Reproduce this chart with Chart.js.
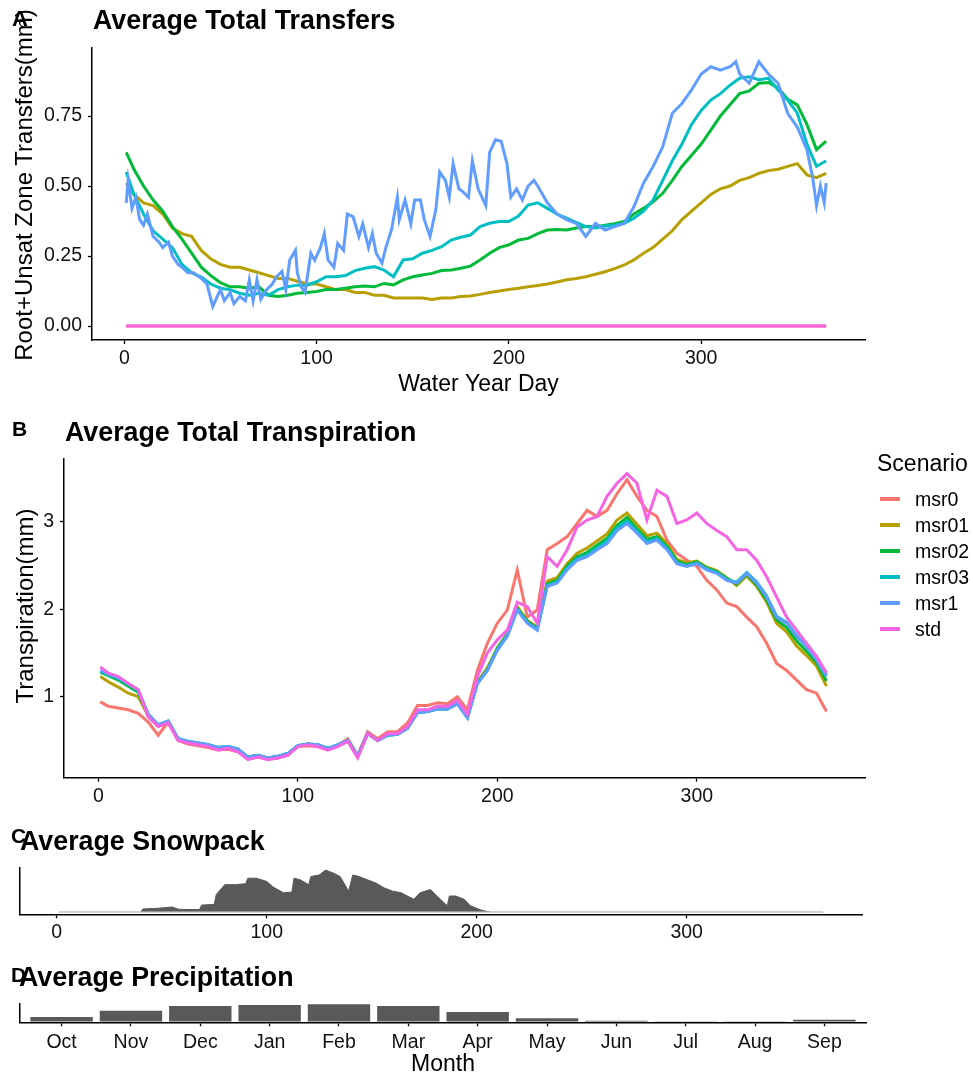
<!DOCTYPE html>
<html>
<head>
<meta charset="utf-8">
<title>Water balance by scenario</title>
<script src="https://cdn.jsdelivr.net/npm/chart.js@4.4.1/dist/chart.umd.min.js"></script>
<style>
  body { margin: 0; background: #fff; }
  #page { position: relative; width: 973px; height: 1080px; overflow: hidden; background: #fff;
          font-family: 'Liberation Sans', Arial, Helvetica, sans-serif; color: #000; }
  canvas { position: absolute; left: 0; }
  .txt { position: absolute; white-space: nowrap; line-height: 1; }
  .bold { font-weight: bold; }
  .vert { transform: translate(-50%, -50%) rotate(-90deg); }
  .key { position: absolute; width: 20px; height: 4px; }
</style>
</head>
<body>
<div id="page">
  <canvas id="transfers" width="973" height="400" style="top:0"></canvas>
  <canvas id="transpiration" width="973" height="420" style="top:400px"></canvas>
  <canvas id="snowpack" width="973" height="130" style="top:820px"></canvas>
  <canvas id="precip" width="973" height="130" style="top:950px"></canvas>

  <div class="txt bold" style="left:12px;top:8px;font-size:22px">A</div>
  <div class="txt bold" style="left:93px;top:7px;font-size:26.8px">Average Total Transfers</div>
  <div class="txt vert" style="left:24px;top:185px;font-size:24px">Root+Unsat Zone Transfers(mm)</div>

  <div class="txt bold" style="left:12px;top:418px;font-size:21px">B</div>
  <div class="txt bold" style="left:65px;top:419px;font-size:26.8px">Average Total Transpiration</div>
  <div class="txt vert" style="left:25px;top:606px;font-size:24px">Transpiration(mm)</div>
  <div class="txt" style="left:877px;top:452px;font-size:23px">Scenario</div>

  <div class="txt bold" style="left:11px;top:825px;font-size:21px">C</div>
  <div class="txt bold" style="left:20px;top:828px;font-size:26.8px">Average Snowpack</div>

  <div class="txt bold" style="left:11px;top:964px;font-size:21px">D</div>
  <div class="txt bold" style="left:19px;top:964px;font-size:26.8px">Average Precipitation</div>
</div>

<script>
const FONT = "'Liberation Sans', Arial, Helvetica, sans-serif";
const TICK_FONT = { family: FONT, size: 19.5 };

const scenarios = ['msr0', 'msr01', 'msr02', 'msr03', 'msr1', 'std'];
const scenarioColors = ['#F8766D', '#B79F00', '#00BA38', '#00BFC4', '#619CFF', '#F564E3'];

// water year days sampled every 5 days
const dayGrid = [1, 5, 10, 15, 20, 25, 30, 35, 40, 45, 50, 55, 60, 65, 70, 75, 80, 85, 90, 95,
  100, 105, 110, 115, 120, 125, 130, 135, 140, 145, 150, 155, 160, 165, 170, 175, 180, 185, 190, 195,
  200, 205, 210, 215, 220, 225, 230, 235, 240, 245, 250, 255, 260, 265, 270, 275, 280, 285, 290, 295,
  300, 305, 310, 315, 320, 325, 330, 335, 340, 345, 350, 355, 360, 365];
const dayEnds = [1, 365];
const dayTicks = [0, 100, 200, 300];

// root + unsat zone transfers (mm)
const xferMsr0 = [0, 0];
const xferMsr01 = [0.51, 0.47, 0.44, 0.43, 0.40, 0.35, 0.33, 0.32, 0.27, 0.24,
  0.22, 0.21, 0.21, 0.20, 0.19, 0.18, 0.17, 0.17, 0.16, 0.15,
  0.15, 0.14, 0.13, 0.13, 0.12, 0.12, 0.11, 0.11, 0.10, 0.10,
  0.10, 0.10, 0.095, 0.10, 0.10, 0.105, 0.107, 0.113, 0.12, 0.125,
  0.13, 0.135, 0.14, 0.145, 0.15, 0.157, 0.165, 0.17, 0.176, 0.185,
  0.194, 0.205, 0.218, 0.236, 0.26, 0.28, 0.31, 0.34, 0.38, 0.41,
  0.44, 0.47, 0.49, 0.50, 0.52, 0.53, 0.545, 0.555, 0.56, 0.57,
  0.58, 0.54, 0.53, 0.545];
const xferMsr02 = [0.62, 0.56, 0.50, 0.45, 0.41, 0.355, 0.31, 0.26, 0.21, 0.18,
  0.155, 0.14, 0.14, 0.135, 0.14, 0.11, 0.105, 0.11, 0.117, 0.12,
  0.123, 0.13, 0.13, 0.135, 0.14, 0.143, 0.14, 0.152, 0.147, 0.165,
  0.176, 0.182, 0.188, 0.198, 0.20, 0.206, 0.214, 0.236, 0.26, 0.28,
  0.29, 0.307, 0.313, 0.33, 0.343, 0.345, 0.343, 0.35, 0.355, 0.355,
  0.36, 0.365, 0.373, 0.40, 0.42, 0.444, 0.474, 0.52, 0.57, 0.61,
  0.65, 0.70, 0.75, 0.79, 0.83, 0.84, 0.867, 0.87, 0.85, 0.81,
  0.79, 0.72, 0.63, 0.66];
const xferMsr03 = [0.55, 0.47, 0.40, 0.34, 0.31, 0.28, 0.22, 0.19, 0.175, 0.15,
  0.135, 0.13, 0.117, 0.11, 0.117, 0.11, 0.13, 0.14, 0.146, 0.146,
  0.158, 0.176, 0.176, 0.18, 0.198, 0.206, 0.212, 0.20, 0.176, 0.236,
  0.24, 0.26, 0.27, 0.283, 0.307, 0.317, 0.325, 0.355, 0.367, 0.373,
  0.373, 0.393, 0.432, 0.44, 0.42, 0.40, 0.385, 0.37, 0.355, 0.35,
  0.357, 0.36, 0.367, 0.385, 0.41, 0.45, 0.52, 0.59, 0.65, 0.72,
  0.77, 0.807, 0.83, 0.86, 0.885, 0.89, 0.88, 0.885, 0.843, 0.807,
  0.76, 0.65, 0.57, 0.59];
// msr1 is much spikier, so it keeps its own denser day list
const xferMsr1Days = [1, 2, 4, 6, 8, 10, 12, 15, 18, 20,
  23, 25, 28, 30, 33, 36, 40, 43, 46, 50,
  52, 55, 57, 60, 63, 65, 67, 69, 71, 74,
  77, 79, 82, 84, 86, 89, 90, 92, 94, 97,
  99, 102, 104, 106, 109, 111, 114, 116, 119, 122,
  124, 127, 129, 131, 134, 136, 139, 142, 143, 146,
  149, 151, 154, 156, 159, 162, 164, 167, 169, 171,
  174, 176, 179, 181, 184, 188, 190, 193, 196, 199,
  201, 204, 207, 210, 213, 215, 220, 225, 230, 235,
  240, 245, 250, 255, 260, 265, 270, 275, 280, 285,
  290, 295, 300, 305, 310, 315, 318, 320, 325, 330,
  335, 340, 345, 350, 355, 358, 360, 362, 364, 365];
const xferMsr1 = [0.44, 0.52, 0.42, 0.46, 0.38, 0.36, 0.40, 0.32, 0.30, 0.28,
  0.30, 0.25, 0.22, 0.21, 0.19, 0.19, 0.17, 0.15, 0.07, 0.13,
  0.09, 0.12, 0.08, 0.105, 0.09, 0.165, 0.09, 0.165, 0.095, 0.13,
  0.15, 0.175, 0.195, 0.13, 0.235, 0.27, 0.19, 0.14, 0.12, 0.26,
  0.235, 0.28, 0.33, 0.235, 0.21, 0.295, 0.27, 0.40, 0.39, 0.32,
  0.365, 0.28, 0.33, 0.26, 0.225, 0.28, 0.345, 0.46, 0.38, 0.45,
  0.365, 0.45, 0.45, 0.38, 0.32, 0.415, 0.55, 0.52, 0.46, 0.58,
  0.49, 0.48, 0.46, 0.59, 0.49, 0.43, 0.62, 0.665, 0.66, 0.58,
  0.46, 0.49, 0.45, 0.50, 0.52, 0.50, 0.44, 0.40, 0.38, 0.367,
  0.32, 0.367, 0.343, 0.355, 0.367, 0.426, 0.51, 0.57, 0.64, 0.76,
  0.795, 0.843, 0.90, 0.926, 0.914, 0.926, 0.944, 0.90, 0.867, 0.944,
  0.90, 0.867, 0.76, 0.71, 0.63, 0.53, 0.43, 0.50, 0.44, 0.51];
const xferStd = [0, 0];
const xferTicks = [0, 0.25, 0.5, 0.75];

// transpiration (mm)
const transpMsr0 = [0.94, 0.89, 0.87, 0.85, 0.81, 0.71, 0.56, 0.71, 0.50, 0.46,
  0.44, 0.42, 0.39, 0.40, 0.37, 0.29, 0.31, 0.29, 0.30, 0.34,
  0.43, 0.44, 0.43, 0.40, 0.44, 0.52, 0.33, 0.60, 0.52, 0.60,
  0.60, 0.70, 0.90, 0.90, 0.93, 0.92, 1.00, 0.85, 1.30, 1.61,
  1.84, 1.99, 2.45, 1.91, 1.99, 2.68, 2.75, 2.83, 2.98, 3.13,
  3.06, 3.13, 3.32, 3.48, 3.29, 3.13, 3.06, 2.79, 2.64, 2.56,
  2.49, 2.33, 2.22, 2.07, 2.03, 1.91, 1.80, 1.61, 1.38, 1.30,
  1.19, 1.08, 1.04, 0.83];
const transpMsr01 = [1.23, 1.17, 1.11, 1.04, 1.00, 0.78, 0.66, 0.71, 0.51, 0.48,
  0.46, 0.44, 0.41, 0.42, 0.39, 0.30, 0.32, 0.29, 0.31, 0.34,
  0.43, 0.45, 0.44, 0.40, 0.44, 0.50, 0.31, 0.58, 0.50, 0.57,
  0.57, 0.65, 0.83, 0.84, 0.87, 0.87, 0.93, 0.77, 1.17, 1.33,
  1.56, 1.72, 2.03, 1.87, 1.80, 2.32, 2.36, 2.52, 2.64, 2.70,
  2.78, 2.86, 3.02, 3.10, 2.97, 2.84, 2.87, 2.75, 2.57, 2.53,
  2.55, 2.48, 2.44, 2.36, 2.27, 2.38, 2.26, 2.08, 1.84, 1.74,
  1.58, 1.47, 1.35, 1.12];
const transpMsr02 = [1.28, 1.24, 1.19, 1.12, 1.05, 0.79, 0.67, 0.72, 0.52, 0.48,
  0.47, 0.45, 0.42, 0.43, 0.40, 0.31, 0.33, 0.30, 0.32, 0.35,
  0.44, 0.46, 0.45, 0.41, 0.45, 0.50, 0.32, 0.58, 0.50, 0.56,
  0.57, 0.64, 0.82, 0.83, 0.86, 0.86, 0.92, 0.76, 1.16, 1.31,
  1.55, 1.71, 2.01, 1.86, 1.78, 2.29, 2.33, 2.49, 2.60, 2.65,
  2.73, 2.81, 2.96, 3.05, 2.92, 2.80, 2.83, 2.72, 2.55, 2.51,
  2.54, 2.47, 2.43, 2.35, 2.29, 2.40, 2.28, 2.11, 1.88, 1.79,
  1.64, 1.52, 1.39, 1.18];
const transpMsr03 = [1.29, 1.25, 1.21, 1.14, 1.07, 0.80, 0.68, 0.72, 0.52, 0.49,
  0.47, 0.45, 0.42, 0.43, 0.40, 0.31, 0.33, 0.30, 0.32, 0.35,
  0.44, 0.46, 0.45, 0.41, 0.45, 0.50, 0.32, 0.58, 0.50, 0.56,
  0.57, 0.64, 0.82, 0.83, 0.86, 0.86, 0.92, 0.76, 1.15, 1.30,
  1.54, 1.70, 2.00, 1.85, 1.77, 2.27, 2.31, 2.47, 2.58, 2.62,
  2.70, 2.78, 2.93, 3.01, 2.89, 2.77, 2.81, 2.70, 2.53, 2.50,
  2.53, 2.46, 2.42, 2.34, 2.31, 2.42, 2.31, 2.15, 1.92, 1.85,
  1.70, 1.58, 1.43, 1.25];
const transpMsr1 = [1.30, 1.26, 1.22, 1.15, 1.08, 0.80, 0.68, 0.72, 0.52, 0.49,
  0.47, 0.45, 0.42, 0.43, 0.40, 0.31, 0.33, 0.30, 0.32, 0.35,
  0.44, 0.46, 0.45, 0.41, 0.45, 0.50, 0.32, 0.58, 0.50, 0.56,
  0.57, 0.64, 0.82, 0.83, 0.86, 0.86, 0.92, 0.76, 1.15, 1.30,
  1.53, 1.69, 1.99, 1.84, 1.76, 2.26, 2.30, 2.45, 2.56, 2.60,
  2.68, 2.75, 2.90, 2.98, 2.87, 2.75, 2.79, 2.68, 2.52, 2.49,
  2.52, 2.45, 2.41, 2.33, 2.30, 2.41, 2.30, 2.14, 1.91, 1.84,
  1.69, 1.57, 1.42, 1.23];
const transpStd = [1.34, 1.27, 1.23, 1.15, 1.08, 0.77, 0.66, 0.70, 0.50, 0.47,
  0.45, 0.43, 0.39, 0.41, 0.37, 0.28, 0.31, 0.28, 0.30, 0.33,
  0.43, 0.45, 0.43, 0.39, 0.43, 0.49, 0.30, 0.58, 0.50, 0.58,
  0.58, 0.66, 0.85, 0.85, 0.89, 0.89, 0.96, 0.80, 1.23, 1.50,
  1.65, 1.76, 2.08, 2.03, 1.84, 2.60, 2.49, 2.68, 2.94, 3.02,
  3.06, 3.29, 3.44, 3.55, 3.44, 3.02, 3.36, 3.29, 2.98, 3.02,
  3.10, 2.98, 2.90, 2.83, 2.68, 2.68, 2.56, 2.37, 2.14, 1.91,
  1.76, 1.61, 1.46, 1.27];
const transpTicks = [1, 2, 3];

// snowpack (mm SWE)
const snowDays = [1, 40, 41, 48, 55, 58, 65, 68, 69, 75, 76, 80, 85, 90, 91, 95, 100, 103, 108, 112,
  113, 116, 120, 121, 125, 128, 132, 135, 139, 141, 144, 148, 152, 156, 160, 164, 170, 173, 178, 181,
  186, 187, 190, 194, 197, 202, 205, 207, 365];
const snowDepth = [0, 0, 10, 12, 16, 9, 8, 8, 22, 24, 55, 85, 85, 88, 105, 105, 95, 78, 60, 62,
  105, 100, 85, 110, 115, 130, 120, 110, 65, 115, 110, 100, 90, 75, 65, 60, 40, 60, 70, 50,
  20, 50, 50, 40, 20, 7, 2, 0, 0];

// monthly precipitation (mm), water year order
const monthNames = ['Oct', 'Nov', 'Dec', 'Jan', 'Feb', 'Mar', 'Apr', 'May', 'Jun', 'Jul', 'Aug', 'Sep'];
const monthIndex = [1, 2, 3, 4, 5, 6, 7, 8, 9, 10, 11, 12];
const precipTotals = [12, 30, 43, 46, 48, 43, 26, 9, 2, 0.5, 0.3, 5];

function pts(xs, ys) {
  return xs.map((x, i) => ({ x: x, y: ys[i] }));
}

function scenarioLine(i, xs, ys) {
  return {
    label: scenarios[i],
    data: pts(xs, ys),
    borderColor: scenarioColors[i],
    borderWidth: 3,
    pointRadius: 0,
    tension: 0,
    fill: false,
    order: scenarios.length - i   // later scenarios are painted on top
  };
}

function xAxis(min, max, ticks, fmt, height, pad, title) {
  return {
    type: 'linear', min: min, max: max, offset: false,
    afterBuildTicks: s => { s.ticks = ticks.map(v => ({ value: v })); },
    afterFit: s => { s.height = height; },
    ticks: { color: '#111', font: TICK_FONT, padding: pad, maxRotation: 0, autoSkip: false, callback: fmt },
    grid: { drawOnChartArea: false, tickLength: 4, tickColor: '#000', tickWidth: 1.3, offset: false },
    border: { display: true, color: '#000', width: 1.5 },
    title: title
      ? { display: true, text: title, color: '#000', font: { family: FONT, size: 23 }, padding: { top: 0, bottom: 2 } }
      : { display: false }
  };
}

function yAxis(min, max, ticks, fmt, width) {
  const axis = {
    min: min, max: max,
    afterFit: s => { s.width = width; },
    border: { display: true, color: '#000', width: 1.5 }
  };
  if (ticks) {
    axis.afterBuildTicks = s => { s.ticks = ticks.map(v => ({ value: v })); };
    axis.ticks = { color: '#111', font: TICK_FONT, padding: 6, callback: fmt };
    axis.grid = { drawOnChartArea: false, tickLength: 4, tickColor: '#000', tickWidth: 1.3 };
  } else {
    axis.ticks = { display: false };
    axis.grid = { display: false };
  }
  return axis;
}

function baseOptions(padTop, padRight, scales) {
  return {
    responsive: false,
    animation: false,
    layout: { padding: { top: padTop, right: padRight, left: 0, bottom: 0 } },
    plugins: { legend: { display: false }, tooltip: { enabled: false } },
    scales: scales
  };
}

// A: transfers
new Chart(document.getElementById('transfers'), {
  type: 'line',
  data: {
    datasets: [
      scenarioLine(0, dayEnds, xferMsr0),
      scenarioLine(1, dayGrid, xferMsr01),
      scenarioLine(2, dayGrid, xferMsr02),
      scenarioLine(3, dayGrid, xferMsr03),
      scenarioLine(4, xferMsr1Days, xferMsr1),
      scenarioLine(5, dayEnds, xferStd)
    ]
  },
  options: baseOptions(48, 108, {
    x: xAxis(-16.8, 385.2, dayTicks, v => String(v), 60, 2.6, 'Water Year Day'),
    y: yAxis(-0.05, 0.993, xferTicks, v => v.toFixed(2), 92)
  })
});

// B: transpiration
new Chart(document.getElementById('transpiration'), {
  type: 'line',
  data: {
    datasets: [
      scenarioLine(0, dayGrid, transpMsr0),
      scenarioLine(1, dayGrid, transpMsr01),
      scenarioLine(2, dayGrid, transpMsr02),
      scenarioLine(3, dayGrid, transpMsr03),
      scenarioLine(4, dayGrid, transpMsr1),
      scenarioLine(5, dayGrid, transpStd)
    ]
  },
  options: baseOptions(58.3, 108, {
    x: xAxis(-17.2, 384.3, dayTicks, v => String(v), 42.3, 3.3, null),
    y: yAxis(0.074, 3.725, transpTicks, v => String(v), 64)
  })
});

// C: snowpack area
new Chart(document.getElementById('snowpack'), {
  type: 'line',
  data: {
    datasets: [
      { data: pts(dayEnds, [0, 0]), borderColor: '#d6d6d6', borderWidth: 1.5, pointRadius: 0, fill: false, order: 0 },
      { data: pts(snowDays, snowDepth), borderColor: '#595959', borderWidth: 1, backgroundColor: '#595959',
        pointRadius: 0, tension: 0, fill: 'origin', order: 1 }
    ]
  },
  options: baseOptions(48, 111, {
    x: xAxis(-17.5, 383.5, dayTicks, v => String(v), 35.7, 2.5, null),
    y: yAxis(-6.5, 136.5, null, null, 20)
  })
});

// D: monthly precipitation bars
new Chart(document.getElementById('precip'), {
  type: 'bar',
  data: {
    datasets: [{
      data: pts(monthIndex, precipTotals),
      backgroundColor: '#595959',
      borderWidth: 0,
      categoryPercentage: 0.9,
      barPercentage: 1
    }]
  },
  options: baseOptions(53.3, 107, {
    x: xAxis(0.4, 12.6, monthIndex, v => monthNames[v - 1], 57.7, 4.7, 'Month'),
    y: yAxis(-2.4, 50.4, null, null, 20)
  })
});

// scenario legend beside panel B
const page = document.getElementById('page');
scenarios.forEach((name, i) => {
  const cy = 499 + 26 * i;
  const key = document.createElement('div');
  key.className = 'key';
  key.style.left = '880px';
  key.style.top = (cy - 2) + 'px';
  key.style.background = scenarioColors[i];
  page.appendChild(key);
  const label = document.createElement('div');
  label.className = 'txt';
  label.style.left = '915px';
  label.style.top = (cy - 9) + 'px';
  label.style.fontSize = '19.5px';
  label.textContent = name;
  page.appendChild(label);
});
</script>
</body>
</html>
